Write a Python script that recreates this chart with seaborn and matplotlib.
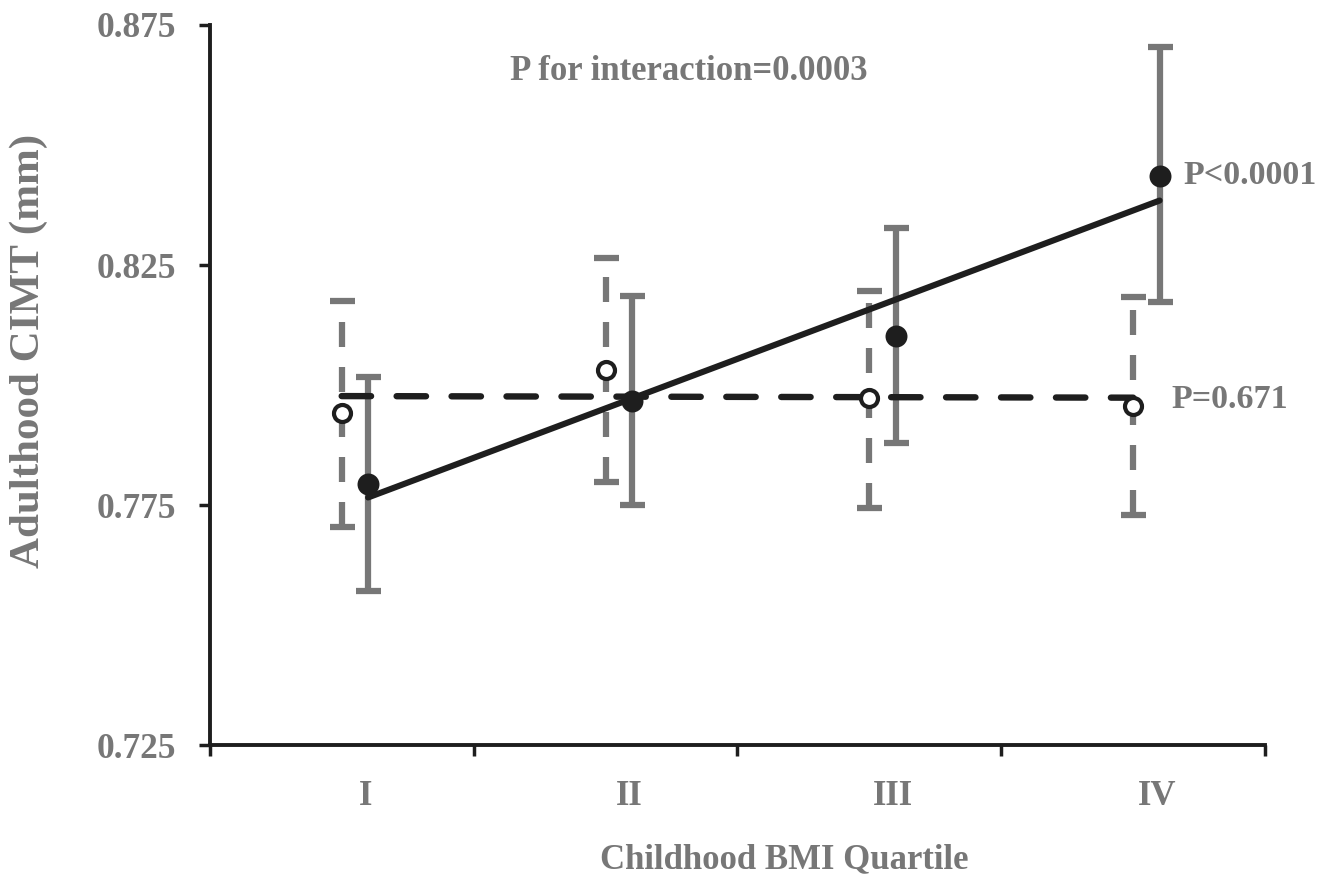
import numpy as np
import seaborn as sns
import matplotlib.pyplot as plt

# Childhood BMI quartiles
quartiles = ["I", "II", "III", "IV"]
xpos = np.array([0, 1, 2, 3])

# open circles (dashed)
open_mean = [0.7941, 0.8031, 0.7972, 0.7957]
open_low = [0.7704, 0.7798, 0.7744, 0.7729]
open_high = [0.8176, 0.8265, 0.8196, 0.8184]

# filled circles (solid)
filled_mean = [0.7794, 0.7967, 0.8103, 0.8436]
filled_low = [0.7571, 0.7750, 0.7880, 0.8172]
filled_high = [0.8016, 0.8185, 0.8327, 0.8704]

gray = "#777777"
dark = "#1e1e1e"

sns.set_style("ticks")
plt.rcParams["font.family"] = ["Liberation Serif", "DejaVu Serif"]
plt.rcParams["font.weight"] = "bold"

fig = plt.figure(figsize=(13.36, 8.77), dpi=100)
ax = fig.add_axes([0.157, 0.1505, 0.79, 0.821])

x_open = xpos
x_filled = xpos + 0.1

# error bars
eb = ax.errorbar(x_open, open_mean,
                 yerr=[np.subtract(open_mean, open_low), np.subtract(open_high, open_mean)],
                 fmt="none", ecolor=gray, elinewidth=4.5, capsize=9, capthick=4.5, zorder=1)
eb[2][0].set_linestyle((0, (4, 3.2)))
ax.errorbar(x_filled, filled_mean,
            yerr=[np.subtract(filled_mean, filled_low), np.subtract(filled_high, filled_mean)],
            fmt="none", ecolor=gray, elinewidth=4.5, capsize=9, capthick=4.5, zorder=1)

# linear trend lines
sns.regplot(x=x_filled, y=filled_mean, ci=None, scatter=False, truncate=True, ax=ax,
            line_kws=dict(color=dark, lw=4.4, solid_capstyle="round", zorder=3))
sns.regplot(x=x_open, y=open_mean, ci=None, scatter=False, truncate=True, ax=ax,
            line_kws=dict(color=dark, lw=4.6, ls=(0, (4.6, 4.0)), dash_capstyle="round", zorder=3))

# points
sns.scatterplot(x=x_open, y=open_mean, s=150, color="white", edgecolor=dark,
                linewidth=3.0, ax=ax, zorder=4)
sns.scatterplot(x=x_filled, y=filled_mean, s=250, color=dark, edgecolor=dark,
                linewidth=0, ax=ax, zorder=4)

ax.set_xlim(-0.5, 3.5)
ax.set_ylim(0.725, 0.875)
ax.set_yticks([0.725, 0.775, 0.825, 0.875])
ax.set_yticklabels(["0.725", "0.775", "0.825", "0.875"])
ax.set_xticks([-0.5, 0.5, 1.5, 2.5, 3.5])
ax.set_xticklabels([])
ax.set_xticks(xpos + 0.09, minor=True)
ax.set_xticklabels(quartiles, minor=True)

ax.tick_params(axis="x", which="major", length=8, width=2.5, color=dark, direction="out")
ax.tick_params(axis="x", which="minor", length=0, pad=25, labelsize=25, labelcolor=gray)
ax.tick_params(axis="y", length=8, width=2.5, color=dark, direction="out",
               pad=16, labelsize=25.5, labelcolor=gray)

for side in ["top", "right"]:
    ax.spines[side].set_visible(False)
for side in ["left", "bottom"]:
    ax.spines[side].set_linewidth(2.8)
    ax.spines[side].set_color(dark)

ax.set_xlabel("Childhood BMI Quartile", fontsize=25, color=gray, fontweight="bold")
ax.xaxis.set_label_coords(0.544, -0.136)
ax.set_ylabel("Adulthood CIMT (mm)", fontsize=31, color=gray, fontweight="bold")
ax.yaxis.set_label_coords(-0.153, 0.547)

ax.text(0.454, 0.935, "P for interaction=0.0003", transform=ax.transAxes,
        ha="center", va="center", fontsize=25, color=gray, fontweight="bold")
ax.text(3.19, filled_mean[3], "P<0.0001", ha="left", va="center",
        fontsize=24.5, color=gray, fontweight="bold")
ax.text(3.145, 0.7969, "P=0.671", ha="left", va="center",
        fontsize=24.5, color=gray, fontweight="bold")

fig.savefig("out.png", dpi=100)
